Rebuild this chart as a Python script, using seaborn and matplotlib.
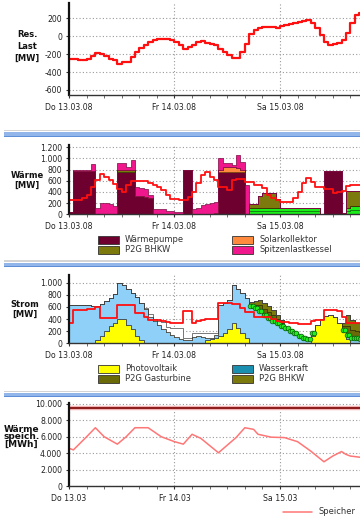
import numpy as np
import matplotlib
matplotlib.use("Agg")
import matplotlib.pyplot as plt
from matplotlib.patches import Rectangle
from matplotlib.lines import Line2D
from matplotlib.ticker import FuncFormatter, MultipleLocator
import seaborn as sns

sns.set_theme(style="white")
plt.rcParams["font.family"] = ["DejaVu Sans"]

# ---------------------------------------------------------------- data
hours = np.arange(67)                      # hourly values from Do 13.03. 00:00
day_ticks = [0, 24, 48]
day_labels_long = ["Do 13.03.08", "Fr 14.03.08", "Sa 15.03.08"]
day_labels_short = ["Do 13.03", "Fr 14.03", "Sa 15.03"]

# residual load [MW]
res_last = [-250, -258, -268, -265, -250, -223, -186, -200, -225, -250,
            -270, -305, -290, -283, -230, -175, -135, -100, -65, -45,
            -35, -26, -35, -45, -63, -93, -138, -119, -93, -63,
            -52, -75, -85, -93, -138, -175, -212, -238, -238, -175,
            -82, 19, 74, 93, 104, 104, 104, 97, 110, 123,
            135, 142, 153, 165, 176, 149, 86, 11, -63, -93,
            -85, -75, -40, 40, 150, 240, 260]

# heat generation [MW]
waerme_gruen1 = [0] * 41 + [60] * 16 + [0] * 6 + [60, 75, 75, 75]
waerme_gruen2 = [0] * 41 + [60] * 16 + [0] * 6 + [60, 75, 75, 75]
waermepumpe = [45, 766, 766, 766, 766, 766, 0, 0, 0, 0, 0,
               760, 760, 760, 760, 330, 320, 315, 300,
               0, 0, 0, 0, 0, 0, 0, 790, 790, 0, 0, 0, 0, 0, 0,
               760, 760, 760, 760, 760, 760, 0,
               0, 0, 0, 0, 0, 0, 0, 0, 0, 0, 0, 0, 0, 0, 0, 0, 0,
               770, 770, 770, 770, 0, 0, 0, 0, 0]
p2g_bhkw_w = [0] * 11 + [25, 25, 25, 25] + [0] * 26 + \
             [70, 70, 200, 260, 260, 260, 160] + [0] * 15 + [290, 270, 270, 270]
solarkollektor = [0] * 33 + [25, 40, 90, 90, 80, 70, 30] + [0] * 22 + [20] + [0] * 4
spitzenlast = [0, 30, 30, 30, 30, 130, 120, 195, 195, 180, 150,
               130, 130, 70, 190, 165, 150, 130, 45,
               100, 100, 95, 60, 60, 45, 45, 0, 0,
               95, 110, 160, 180, 200, 195,
               200, 60, 60, 40, 240, 140, 520] + [0] * 26
waermebedarf = [256, 256, 260, 287, 345, 495, 615, 716, 674, 615,
                543, 448, 405, 525, 602, 602, 602, 602, 555, 525,
                484, 435, 346, 269, 269, 256, 256, 316, 405, 555,
                704, 764, 674, 615, 495, 495, 435, 615, 627, 627,
                584, 584, 525, 525, 466, 346, 300, 256, 226, 226,
                226, 287, 405, 555, 645, 584, 495, 495, 448, 448,
                376, 400, 423, 507, 525, 525, 525]

# power generation [MW]
wasserkraft = [8] * 67
photovoltaik = [0, 0, 0, 0, 0, 0, 40, 110, 190, 270, 330, 385, 385, 300, 220, 110, 44] + \
               [0] * 14 + [40, 60, 85, 110, 165, 230, 330, 250, 170, 80] + \
               [0] * 14 + [120, 300, 385, 440, 467, 420, 330, 180, 60, 0, 0, 0]
wind = [624, 624, 624, 624, 617, 612, 562, 532, 492, 462, 482, 597, 567, 592, 602, 642, 608, 552,
        432, 362, 292, 232, 172, 132, 102, 62, 47, 52, 92, 112, 102, 32, 27, 37,
        514, 487, 477, 624, 642, 652, 652,
        582, 542, 502, 442, 392, 342, 302, 252, 212, 172, 132, 87, 52, 42,
        10, 0, 0, 0, 0, 0, 0, 0, 40, 60, 50, 40]
strom_gruen = [0] * 41 + [50] * 15 + [0] * 6 + [50] * 5
p2g_gasturbine = [0] * 41 + [15, 40, 65, 65, 65, 60, 45, 30] + [0] * 13 + [40, 120, 105, 90, 90]
p2g_bhkw_s = [0] * 41 + [25, 60, 95, 95, 95, 95, 65, 40] + [0] * 13 + [60, 190, 160, 130, 140]
strom_rest = [0] * 17 + [20, 50, 30, 60, 110, 95, 110, 140, 175, 25, 20, 65, 45, 55, 85, 70, 40] + [0] * 33
strombedarf = [330, 550, 550, 555, 560, 565, 605, 412, 412, 412,
               412, 632, 632, 632, 632, 495, 495, 440, 385, 385,
               385, 360, 350, 335, 330, 330, 540, 540, 330, 360,
               385, 400, 400, 405, 660, 660, 660, 655, 650, 578,
               520, 520, 440, 440, 440, 440, 400, 360, 357, 357,
               330, 330, 320, 320, 320, 360, 385, 385, 550, 550,
               550, 540, 430, 340, 340, 340, 340]

# heat storage [MWh]
speicher_t = [0, 1, 4, 6, 8, 11, 13, 15, 18, 21, 24, 26, 28, 30, 34, 38, 40,
              42, 43, 46, 49, 52, 55, 58, 60, 62, 63, 64, 67]
speicher_v = [4600, 4400, 6000, 7100, 6000, 5100, 6000, 7100, 7100, 6000, 5400, 5100,
              6300, 5800, 4050, 5900, 7100, 6900, 6300, 5950, 5900, 5400, 4250, 2950,
              3650, 4200, 3850, 3650, 3450]
speicher_max = 9550

# ---------------------------------------------------------------- colours
C_WP = "#6e0030"
C_SOLAR = "#ff8a3d"
C_BHKW = "#7c7a0c"
C_GT = "#6b6a08"
C_PINK = "#f0168c"
C_GREEN = "#19f019"
C_PV = "#ffff00"
C_WASSER = "#1a8fb0"
C_WIND = "#8fd0f8"
C_RED = "#ff1010"

# ---------------------------------------------------------------- figure
W, H = 360, 518
fig = plt.figure(figsize=(W / 100, H / 100), dpi=100)
fig.patch.set_facecolor("white")

PX_PER_H = 105.5 / 24
X0, X_RIGHT = 69, 400


def add_panel(top, bottom):
    ax = fig.add_axes([X0 / W, 1 - bottom / H, (X_RIGHT - X0) / W, (bottom - top) / H])
    ax.set_xlim(0, (X_RIGHT - X0) / PX_PER_H)
    ax.set_facecolor("white")
    return ax


de_fmt = FuncFormatter(lambda v, p: f"{int(round(v)):,}".replace(",", "."))


def style(ax, yticks, xlabels):
    ax.set_yticks(yticks)
    ax.yaxis.set_major_formatter(de_fmt)
    ax.set_xticks(day_ticks)
    ax.set_xticklabels(xlabels)
    ax.xaxis.set_minor_locator(MultipleLocator(4))
    ax.tick_params(bottom=True, left=True)
    ax.tick_params(axis="both", which="major", labelsize=5.6, labelcolor="#222",
                   color="#333", length=2.5, width=0.8, pad=2.5)
    ax.tick_params(axis="x", which="major", pad=3.2)
    ax.tick_params(axis="x", which="minor", bottom=True, length=2, width=0.6, color="#555")
    for s in ("top", "right"):
        ax.spines[s].set_visible(False)
    ax.spines["left"].set_linewidth(1.6)
    ax.spines["left"].set_color("#111")
    ax.spines["bottom"].set_linewidth(1.0)
    ax.spines["bottom"].set_color("#333")
    ax.grid(True, which="major", color="#9a9a9a", linestyle=(0, (1, 2)), linewidth=0.8)
    ax.set_axisbelow(True)


xs = np.r_[hours, hours[-1] + 1]


def ext(vals):
    return np.r_[vals, vals[-1]].astype(float)


def stack(ax, layers, colors, edges, lw=0.5):
    base = np.zeros(len(xs))
    bases = []
    for vals, c, e in zip(layers, colors, edges):
        v = ext(vals)
        top = base + v
        ax.fill_between(xs, base, top, step="post", facecolor=c, edgecolor=e, linewidth=lw)
        bases.append(base)
        base = top
    return bases, base


def red_step(ax, vals, lw=1.3):
    sns.lineplot(x=xs, y=ext(vals), drawstyle="steps-post", color=C_RED,
                 linewidth=lw, ax=ax, legend=False)
    ax.set_xlabel("")
    ax.set_ylabel("")


# ---- panel 1: residual load
ax1 = add_panel(3.3, 95)
ax1.set_ylim(-656, 367)
red_step(ax1, res_last, lw=1.6)
style(ax1, [-600, -400, -200, 0, 200], day_labels_long)

# ---- panel 2: heat
ax2 = add_panel(145, 214.3)
ax2.set_ylim(0, 1240)
stack(ax2,
      [waerme_gruen1, waerme_gruen2, waermepumpe, p2g_bhkw_w, solarkollektor, spitzenlast],
      [C_GREEN, C_GREEN, C_WP, C_BHKW, C_SOLAR, C_PINK],
      ["#0b6b0b", "#0b6b0b", "#2a0012", "#3a3a00", "#7a3a10", "#7a0a40"])
red_step(ax2, waermebedarf)
style(ax2, [0, 200, 400, 600, 800, 1000, 1200], day_labels_long)

# ---- panel 3: power
ax3 = add_panel(275, 343.3)
ax3.set_ylim(0, 1127)
bases, _ = stack(ax3,
                 [wasserkraft, photovoltaik, wind, strom_gruen, p2g_gasturbine, p2g_bhkw_s, strom_rest],
                 [C_WASSER, C_PV, C_WIND, C_GREEN, C_GT, C_BHKW, "white"],
                 ["#111", "#222", "#3a3a3a", "#0b6b0b", "#2e2e00", "#2e2e00", "#444"])
g_base = bases[3]
gx, gy = [], []
for h, g in zip(hours, strom_gruen):
    if g > 0:
        for off in (0.25, 0.75):
            gx.append(h + off)
            gy.append(g_base[h] + g / 2)
ax3.plot(gx, gy, linestyle="none", marker="o", markersize=3.4,
         markerfacecolor="#22ee22", markeredgecolor="#0a5a0a", markeredgewidth=0.5)
red_step(ax3, strombedarf)
style(ax3, [0, 200, 400, 600, 800, 1000], day_labels_long)

# ---- panel 4: heat storage
ax4 = add_panel(402.7, 486)
ax4.set_ylim(0, 10150)
ax4.axhline(speicher_max, color="#f2b4b4", linewidth=3.2)
ax4.axhline(speicher_max, color="#7a0000", linewidth=1.2)
sns.lineplot(x=speicher_t, y=speicher_v, color="#ff7676", linewidth=1.1, ax=ax4, legend=False)
ax4.set_xlabel("")
ax4.set_ylabel("")
style(ax4, [0, 2000, 4000, 6000, 8000, 10000], day_labels_short)

# ---------------------------------------------------------------- axis titles
lab = dict(fontsize=6, fontweight="bold", color="#111")
fig.text(27 / W, 1 - 46.3 / H, "Res.\nLast\n[MW]", ha="center", va="center", linespacing=1.45, **lab)
fig.text(27 / W, 1 - 180.5 / H, "Wärme\n[MW]", ha="center", va="center", linespacing=1.15, **lab)
fig.text(25 / W, 1 - 309.5 / H, "Strom\n[MW]", ha="center", va="center", linespacing=1.15, **lab)
fig.text(4 / W, 1 - 436.7 / H, "Wärme\nspeich.\n[MWh]", ha="left", va="center",
         linespacing=0.8, fontsize=6.5, fontweight="bold", color="#111")

# ---------------------------------------------------------------- panel header bars
for y in (132.5, 262.8, 393.2):
    fig.add_artist(Rectangle((4 / W, 1 - (y - 1.2) / H), 1, 1.2 / H, transform=fig.transFigure,
                             facecolor="#d4d4d4", edgecolor="none"))
    fig.add_artist(Rectangle((4 / W, 1 - (y + 3.2) / H), 1, 3.2 / H, transform=fig.transFigure,
                             facecolor="#93b6ea", edgecolor="none"))
    fig.add_artist(Rectangle((4 / W, 1 - (y + 4.2) / H), 1, 1.0 / H, transform=fig.transFigure,
                             facecolor="#5f8fd6", edgecolor="none"))

# ---------------------------------------------------------------- legends
def legend_entry(x, y, color, text):
    fig.add_artist(Rectangle((x / W, 1 - (y + 3.8) / H), 21 / W, 7.6 / H,
                             transform=fig.transFigure, facecolor=color,
                             edgecolor="#333", linewidth=0.6))
    fig.text((x + 27) / W, 1 - y / H, text, ha="left", va="center", fontsize=6, color="#333")


for x, y, c, t in [(98, 239.7, C_WP, "Wärmepumpe"), (232, 239.7, C_SOLAR, "Solarkollektor"),
                   (98, 249.7, C_BHKW, "P2G BHKW"), (232, 249.7, C_PINK, "Spitzenlastkessel"),
                   (98, 368.7, C_PV, "Photovoltaik"), (232, 368.7, C_WASSER, "Wasserkraft"),
                   (98, 378.7, C_GT, "P2G Gasturbine"), (232, 378.7, C_BHKW, "P2G BHKW")]:
    legend_entry(x, y, c, t)

fig.add_artist(Line2D([283 / W, 312 / W], [1 - 511.7 / H] * 2, transform=fig.transFigure,
                      color="#ff7676", linewidth=1.1))
fig.text(318.5 / W, 1 - 511.7 / H, "Speicher", ha="left", va="center", fontsize=6, color="#333")

fig.savefig("out.png", dpi=100)
